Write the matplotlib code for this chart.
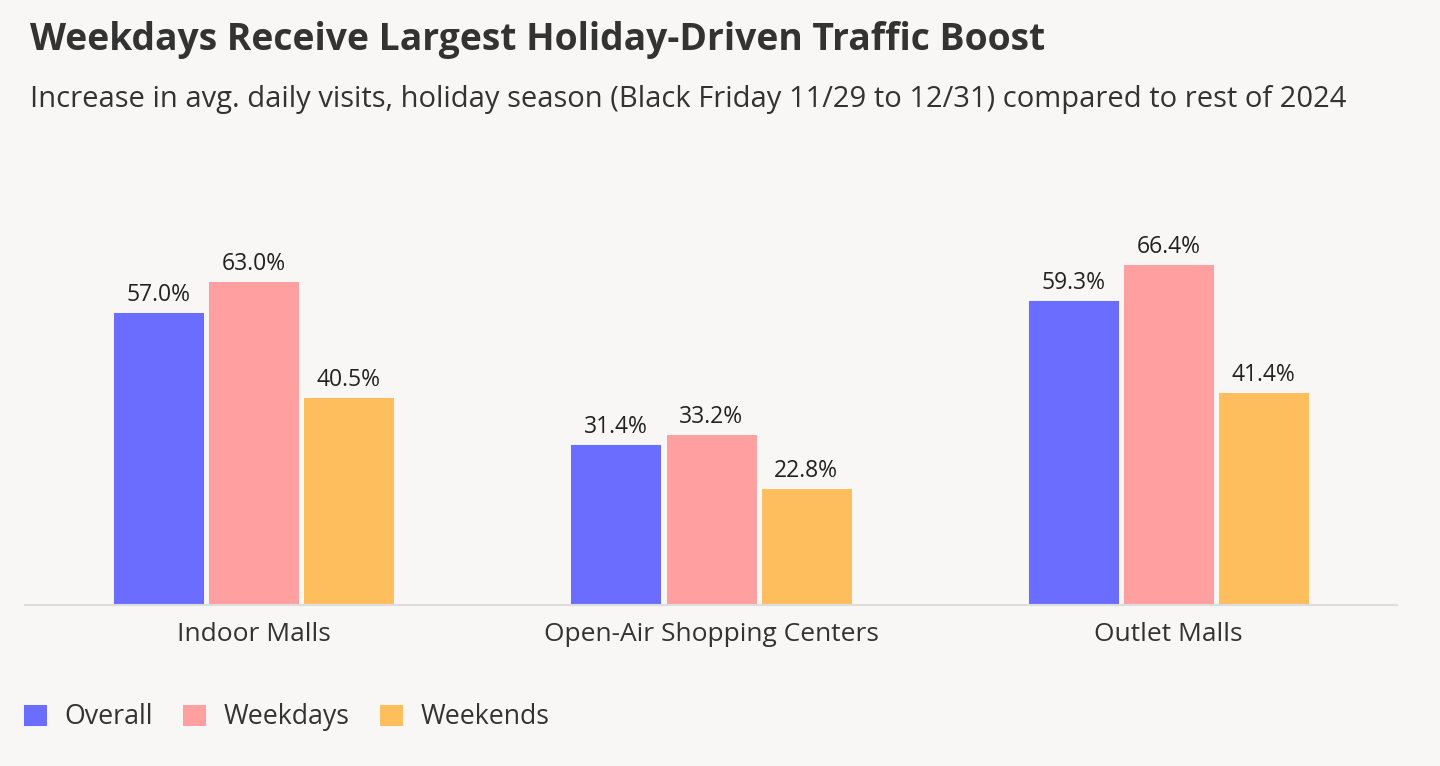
import matplotlib.pyplot as plt
import numpy as np
from matplotlib.patches import Patch

plt.rcParams['font.family'] = ['Open Sans', 'DejaVu Sans']

categories = ['Indoor Malls', 'Open-Air Shopping Centers', 'Outlet Malls']
series_names = ['Overall', 'Weekdays', 'Weekends']
overall = [57.0, 31.4, 59.3]
weekdays = [63.0, 33.2, 66.4]
weekends = [40.5, 22.8, 41.4]
colors = ['#6a6dff', '#ff9f9f', '#ffbe5e']

bg = '#f8f7f5'
fig = plt.figure(figsize=(14.4, 7.66), dpi=100, facecolor=bg)
ax = fig.add_axes([0.0174, 0.2102, 0.9528, 0.607], facecolor=bg)

x = np.arange(len(categories))
width = 0.199
step = 0.208
for i, (vals, col) in enumerate(zip([overall, weekdays, weekends], colors)):
    bars = ax.bar(x + (i - 1) * step, vals, width, color=col, edgecolor='white', linewidth=0.6)
    for b, v in zip(bars, vals):
        ax.text(b.get_x() + b.get_width() / 2, v + 1.0, f'{v:.1f}%', ha='center', va='bottom',
                fontsize=16.5, color='#222222')

ax.set_xlim(-0.5, 2.5)
ax.set_ylim(0, 90.5)
ax.set_yticks([])
ax.set_xticks(x)
ax.set_xticklabels(categories, fontsize=19, color='#333333')
ax.tick_params(axis='x', length=0, pad=12)
for s in ['top', 'right', 'left']:
    ax.spines[s].set_visible(False)
ax.spines['bottom'].set_color('#dddddd')
ax.spines['bottom'].set_linewidth(1.5)

fig.text(0.0208, 0.948, 'Weekdays Receive Largest Holiday-Driven Traffic Boost',
         fontsize=26.8, fontweight='bold', color='#333333', va='center', ha='left')
fig.text(0.0208, 0.870, 'Increase in avg. daily visits, holiday season (Black Friday 11/29 to 12/31) compared to rest of 2024',
         fontsize=21, color='#333333', va='center', ha='left')

handles = [Patch(facecolor=c, edgecolor='white', linewidth=0.6) for c in colors]
fig.legend(handles, series_names, loc='center left', bbox_to_anchor=(-0.0008, 0.064),
           ncol=3, frameon=False, fontsize=19.3, handlelength=0.9, handleheight=0.9,
           handletextpad=0.66, columnspacing=1.08, labelcolor='#333333')

fig.savefig('out.png', dpi=100, facecolor=bg)
